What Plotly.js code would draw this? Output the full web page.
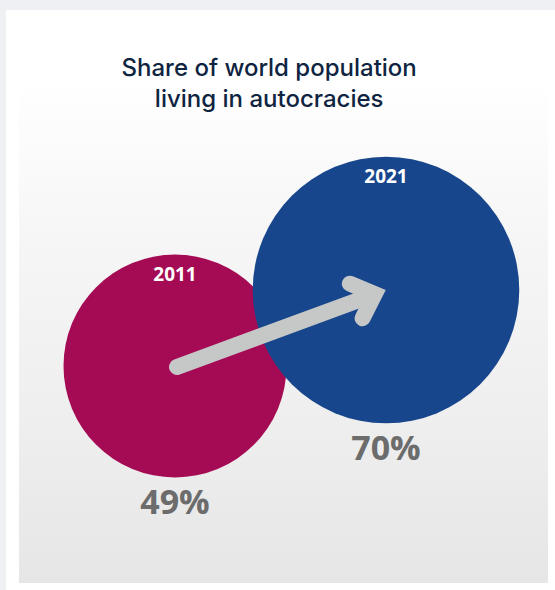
<!DOCTYPE html>
<html>
<head>
<meta charset="utf-8">
<script src="https://cdn.plot.ly/plotly-3.0.1.min.js"></script>
<style>
  html, body { margin: 0; padding: 0; }
  body { width: 555px; height: 590px; background: #eff0f3; position: relative; overflow: hidden; }
  #frame { position: absolute; left: 6px; top: 10px; width: 549px; height: 580px; background: #ffffff; }
  #panel { position: absolute; left: 19px; top: 10px; width: 529px; height: 573px;
           background: linear-gradient(to bottom, #ffffff 0px, #ffffff 70px, #f6f6f6 230px, #eeeeee 420px, #e6e6e6 573px); }
  #chart { position: absolute; left: 0; top: 0; width: 555px; height: 590px; }
  #chart .scatterlayer path.js-line { stroke-linecap: round !important; stroke-linejoin: miter !important; }
</style>
</head>
<body>
<div id="frame"></div>
<div id="panel"></div>
<div id="chart"></div>
<script>
// ---- data ----
const years = ['2011', '2021'];
const shares = [49, 70];           // % of world population living in autocracies
const shareLabels = ['49%', '70%'];
const titleText = 'Share of world population<br>living in autocracies';

// ---- layout (pixel-space positions of the bubble centres) ----
const centerX = [175, 386];
const centerY = [366, 290];
const bubbleColors = ['#a50a55', '#17468c'];
const baseRadius = 111.5;                               // radius for the 49% bubble
const sizeref = shares[0] / (2 * baseRadius * baseRadius); // plotly area mode: r = sqrt(v / (2*sizeref))
const rad = shares.map(v => Math.sqrt(v / (2 * sizeref)));

// arrow from first bubble centre towards second bubble centre
const sx = centerX[0] + 2, sy = centerY[0] + 1;
const dx0 = centerX[1] - sx, dy0 = centerY[1] - sy, len0 = Math.hypot(dx0, dy0);
const ux = dx0 / len0, uy = dy0 / len0;
const vx = centerX[1] - 12 * ux, vy = centerY[1] - 12 * uy;   // chevron vertex
const headLen = 27, headAng = 43 * Math.PI / 180;
function rot(x, y, a) { return [x * Math.cos(a) - y * Math.sin(a), x * Math.sin(a) + y * Math.cos(a)]; }
const a1 = rot(-ux, -uy, headAng), a2 = rot(-ux, -uy, -headAng);

const arrowColor = '#c6c7c7';
const traces = [
  {
    type: 'scatter', mode: 'markers', x: centerX, y: centerY,
    marker: { size: shares, sizemode: 'area', sizeref: sizeref, color: bubbleColors, opacity: 1, line: { width: 0 } },
    hoverinfo: 'skip'
  },
  {
    type: 'scatter', mode: 'lines',
    x: [sx, vx - ux * 6, null, vx + a1[0] * headLen, vx, vx + a2[0] * headLen],
    y: [sy, vy - uy * 6, null, vy + a1[1] * headLen, vy, vy + a2[1] * headLen],
    line: { color: arrowColor, width: 16 }, hoverinfo: 'skip'
  },
  {
    type: 'scatter', mode: 'text', x: centerX, y: centerY.map((c, i) => c - rad[i] + 22),
    text: years, textposition: 'middle center',
    textfont: { family: 'Open Sans', size: 19, color: '#ffffff', weight: 700 }, hoverinfo: 'skip'
  },
  {
    type: 'scatter', mode: 'text', x: centerX, y: centerY.map((c, i) => c + rad[i] + 28),
    text: shareLabels, textposition: 'middle center',
    textfont: { family: 'Open Sans', size: 34, color: '#6c6c6c', weight: 700 }, hoverinfo: 'skip'
  }
];

const layout = {
  width: 555, height: 590,
  margin: { l: 0, r: 0, t: 0, b: 0, pad: 0 },
  paper_bgcolor: 'rgba(0,0,0,0)', plot_bgcolor: 'rgba(0,0,0,0)',
  showlegend: false,
  title: {
    text: titleText, x: 0.485, xanchor: 'center', y: 1 - 76 / 590, yanchor: 'middle',
    font: { family: 'Inter', size: 24, color: '#0e2441', weight: 500 }
  },
  xaxis: { range: [0, 555], visible: false, fixedrange: true },
  yaxis: { range: [590, 0], visible: false, fixedrange: true }
};

Plotly.newPlot('chart', traces, layout, { displayModeBar: false, staticPlot: true });
</script>
</body>
</html>
